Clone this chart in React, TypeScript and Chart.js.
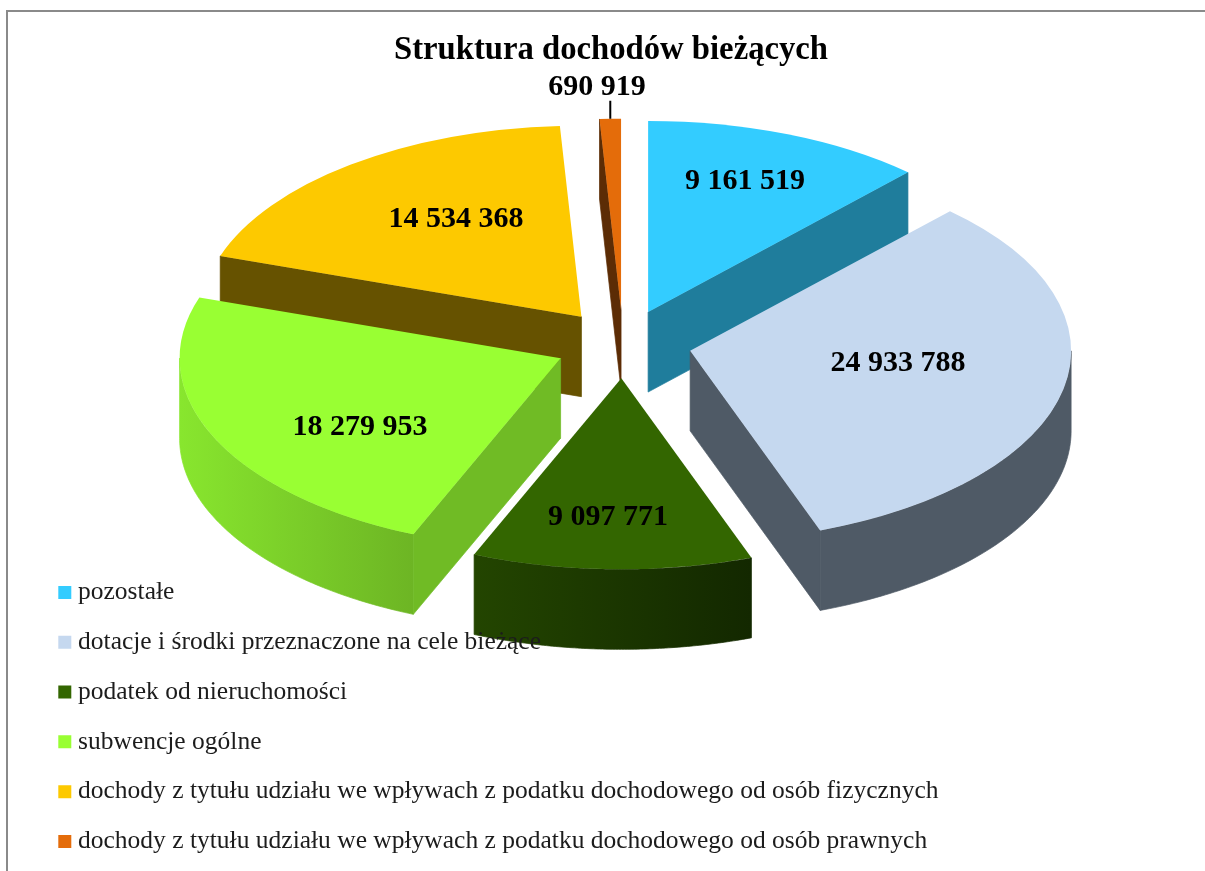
import React, { useEffect, useRef } from "react";
import { Chart, registerables } from "chart.js";

Chart.register(...registerables);

const categories = [
  "pozostałe",
  "dotacje i środki przeznaczone na cele bieżące",
  "podatek od nieruchomości",
  "subwencje ogólne",
  "dochody z tytułu udziału we wpływach z podatku dochodowego od osób fizycznych",
  "dochody z tytułu udziału we wpływach z podatku dochodowego od osób prawnych",
];
const values = [9161519, 24933788, 9097771, 18279953, 14534368, 690919];
const topColors = ["#33ccff", "#c5d8ef", "#336600", "#99ff33", "#fdc900", "#e46c0a"];
const sideColors = ["#1f7d9c", "#4f5a66", "#214200", "#70bb25", "#665200", "#5c2c05"];
const wallLeft = ["#1f7d9c", "#4f5a66", "#234500", "#88e62e", "#665200", "#5c2c05"];
const wallRight = ["#1f7d9c", "#4f5a66", "#132800", "#6db524", "#665200", "#5c2c05"];
const paintOrder = [5, 4, 0, 1, 3, 2];
const labelCentres = [
  [745, 181],
  [898, 363],
  [608, 517],
  [360, 427],
  [456, 219],
  [597, 87],
];

const FONT = "'Liberation Serif', serif";
const CX = 623;
const CY = 344;
const RX = 381;
const RY = 191;
const DEPTH = 80;
const EXPLODE = 68.5;

const fmt = (v: number) => String(v).replace(/\B(?=(\d{3})+$)/g, " ");

const pie3d = {
  id: "pie3d",
  beforeDraw(chart: any) {
    const ctx = chart.ctx;
    ctx.save();
    ctx.fillStyle = "#ffffff";
    ctx.fillRect(0, 0, chart.width, chart.height);
    ctx.strokeStyle = "#8a8a8a";
    ctx.lineWidth = 2;
    ctx.beginPath();
    ctx.moveTo(chart.width, 11);
    ctx.lineTo(7, 11);
    ctx.lineTo(7, chart.height);
    ctx.stroke();

    const arcs = chart.getDatasetMeta(0).data;
    for (const i of paintOrder) {
      const arc = arcs[i];
      const sx = RX / arc.outerRadius;
      const sy = RY / arc.outerRadius;
      const mid = (arc.startAngle + arc.endAngle) / 2;
      const ax = CX + Math.cos(mid) * EXPLODE;
      const ay = CY + (Math.sin(mid) * EXPLODE * RY) / RX;
      const rim = (a: number): [number, number] => [ax + Math.cos(a) * RX, ay + Math.sin(a) * RY];

      // the visible outer wall spans the lower half of the ellipse (sin>0)
      const lo = Math.max(arc.startAngle, 0);
      const hi = Math.min(arc.endAngle, Math.PI);
      if (hi > lo) {
        const p0 = rim(lo);
        const p1 = rim(hi);
        const left = Math.min(p0[0], p1[0]);
        const right = Math.max(p0[0], p1[0]);
        const g = ctx.createLinearGradient(left, 0, right, 0);
        g.addColorStop(0, wallLeft[i]);
        g.addColorStop(1, wallRight[i]);
        ctx.fillStyle = g;
        ctx.strokeStyle = g;
        ctx.lineWidth = 0.7;
        ctx.beginPath();
        const steps = 90;
        for (let k = 0; k <= steps; k++) {
          const [x, y] = rim(lo + ((hi - lo) * k) / steps);
          if (k === 0) ctx.moveTo(x, y);
          else ctx.lineTo(x, y);
        }
        for (let k = steps; k >= 0; k--) {
          const [x, y] = rim(lo + ((hi - lo) * k) / steps);
          ctx.lineTo(x, y + DEPTH);
        }
        ctx.closePath();
        ctx.fill();
        ctx.stroke();
      }

      const radialWall = (a: number) => {
        const [bx, by] = rim(a);
        ctx.fillStyle = sideColors[i];
        ctx.strokeStyle = sideColors[i];
        ctx.lineWidth = 0.7;
        ctx.beginPath();
        ctx.moveTo(ax, ay);
        ctx.lineTo(bx, by);
        ctx.lineTo(bx, by + DEPTH);
        ctx.lineTo(ax, ay + DEPTH);
        ctx.closePath();
        ctx.fill();
        ctx.stroke();
      };
      // a radial wall faces the viewer when its outward normal points down the screen
      if (Math.cos(arc.startAngle) < -1e-6) radialWall(arc.startAngle);
      if (Math.cos(arc.endAngle) > 1e-6) radialWall(arc.endAngle);

      ctx.save();
      ctx.translate(ax, ay);
      ctx.scale(sx, sy);
      ctx.translate(-arc.x, -arc.y);
      arc.draw(ctx);
      ctx.restore();

      if (i === 5) {
        const [lx, ly] = rim(mid);
        ctx.strokeStyle = "#000000";
        ctx.lineWidth = 2;
        ctx.beginPath();
        ctx.moveTo(lx, ly);
        ctx.lineTo(lx, ly - 18);
        ctx.stroke();
      }
    }
    ctx.restore();
  },
  beforeDatasetDraw() {
    return false;
  },
  afterDatasetsDraw(chart: any) {
    const ctx = chart.ctx;
    ctx.save();
    ctx.font = `bold 30px ${FONT}`;
    ctx.fillStyle = "#000000";
    ctx.textAlign = "center";
    ctx.textBaseline = "middle";
    values.forEach((v, i) => {
      ctx.fillText(fmt(v), labelCentres[i][0], labelCentres[i][1]);
    });
    ctx.restore();
  },
};

export default function App() {
  const ref = useRef<HTMLCanvasElement>(null);
  useEffect(() => {
    document.body.style.margin = "0";
    const chart = new Chart(ref.current as HTMLCanvasElement, {
      type: "pie",
      data: {
        labels: categories,
        datasets: [
          {
            data: values,
            backgroundColor: topColors,
            borderWidth: 0,
            offset: 0,
            hoverOffset: 0,
          },
        ],
      },
      options: {
        responsive: false,
        animation: false,
        radius: 300,
        layout: { padding: { left: 40, right: 23, top: 31, bottom: -7.5 } },
        events: [],
        plugins: {
          tooltip: { enabled: false },
          title: {
            display: true,
            text: "Struktura dochodów bieżących",
            color: "#000000",
            font: { family: FONT, size: 32.7, weight: "bold" },
            padding: { top: 0, bottom: 0 },
          },
          legend: {
            display: true,
            position: "left",
            align: "end",
            maxWidth: 1100,
            labels: {
              usePointStyle: true,
              pointStyle: "rect",
              boxWidth: 1,
              boxHeight: 13,
              padding: 24.3,
              color: "#1c1c1c",
              font: { family: FONT, size: 25.5 },
            },
          },
        },
      } as any,
      plugins: [pie3d as any],
    });
    return () => chart.destroy();
  }, []);
  return (
    <div style={{ width: 1205, height: 871, background: "#fff" }}>
      <canvas ref={ref} width={1205} height={871} style={{ display: "block" }} />
    </div>
  );
}
